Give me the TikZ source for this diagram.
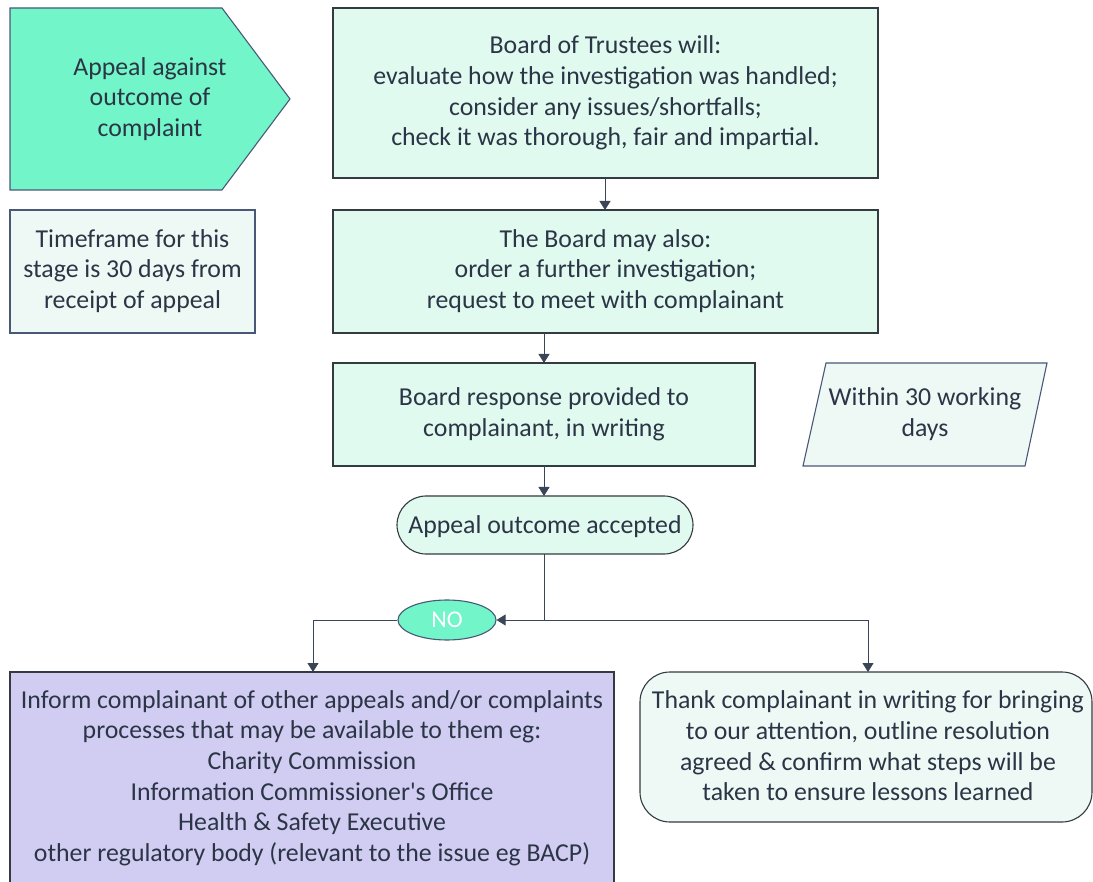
\documentclass[tikz,border=0pt]{standalone}
\usepackage{fontspec}
\setmainfont{Carlito}
\usetikzlibrary{arrows.meta,shapes.geometric,shapes.multipart}
\definecolor{mint}{HTML}{72F5C8}
\definecolor{palemint}{HTML}{E0FAF0}
\definecolor{paler}{HTML}{EEF9F6}
\definecolor{lav}{HTML}{D0CCF2}
\definecolor{txt}{HTML}{2B3545}
\definecolor{edge}{HTML}{4A5878}
\definecolor{dark}{HTML}{333A40}
\definecolor{arr}{HTML}{3A4658}
\tikzset{
  base/.style={text=txt, font=\fontsize{25.8}{30.6}\selectfont, align=center, inner sep=0pt, line width=1.1pt},
  boxA/.style={base, draw=dark, fill=palemint},
  boxB/.style={base, draw=edge, fill=paler},
  conn/.style={draw=arr, line width=1pt},
  tip/.style={-{Triangle[length=9pt,width=11pt]}},
}
\begin{document}
\begin{tikzpicture}[x=1pt,y=-1pt]
\useasboundingbox (0,0) rectangle (1093,882);
% pentagon arrow
\path[draw=edge, fill=mint, line width=1.1pt] (10,8) -- (222,8) -- (290,99) -- (222,190) -- (10,190) -- cycle;
\node[base] (appeal) at (150,99) {Appeal against\\outcome of\\complaint};
% boxes
\path[boxA] (333,8) rectangle (878,178);
\node[base] (b1) at (605.5,93) {Board of Trustees will:\\evaluate how the investigation was handled;\\consider any issues/shortfalls;\\check it was thorough, fair and impartial.};
\coordinate (b1s) at (605,178);
\path[boxA] (333,210) rectangle (878,333);
\node[base] (b2) at (605.5,271) {The Board may also:\\order a further investigation;\\request to meet with complainant};
\coordinate (b2n) at (605,210);
\coordinate (b2s) at (544,333);
\path[boxB] (10,210) rectangle (255,333);
\node[base] (tf) at (132.5,271) {Timeframe for this\\stage is 30 days from\\receipt of appeal};
\path[boxA] (333,363) rectangle (755,466);
\node[base] (b3) at (544,414) {Board response provided to\\complainant, in writing};
\coordinate (b3n) at (544,363);
\coordinate (b3s) at (544,466);
\path[boxB] (826,363) -- (1047,363) -- (1025,466) -- (803,466) -- cycle;
\node[base] (w30) at (925,414) {Within 30 working\\days};
\path[boxA, rounded corners=29pt] (397,496) rectangle (693,554);
\node[base] (acc) at (545,527) {Appeal outcome accepted};
\coordinate (accn) at (544,496);
\coordinate (accs) at (544,554);
\node[ellipse, draw=edge, fill=mint, line width=1.1pt, minimum width=98pt, minimum height=40pt, inner sep=0pt, text=white, font=\fontsize{24}{28}\selectfont] (no) at (447,620) {NO};
\coordinate (j) at (544,620);
\coordinate (rt) at (868,620);
\coordinate (lt) at (313,620);
\path[boxA, fill=lav] (10,672) rectangle (614,890);
\node[base] (inf) at (312,778) {Inform complainant of other appeals and/or complaints\\processes that may be available to them eg:\\Charity Commission\\Information Commissioner\textquotesingle s Office\\Health \& Safety Executive\\other regulatory body (relevant to the issue eg BACP)};
\coordinate (infn) at (313,672);
\path[boxB, draw=dark, rounded corners=30pt] (640,672) rectangle (1092,822);
\node[base] (thk) at (868,746) {Thank complainant in writing for bringing\\to our attention, outline resolution\\agreed \& confirm what steps will be\\taken to ensure lessons learned};
\coordinate (thkn) at (868,672);
% connectors
\draw[conn, tip] (b1s) -- (b2n);
\draw[conn, tip] (b2s) -- (b3n);
\draw[conn, tip] (b3s) -- (accn);
\draw[conn] (accs) -- (j);
\draw[conn, tip] (j) -- (no.east);
\draw[conn, tip] (j) -- (rt) -- (thkn);
\draw[conn, tip] (no.west) -- (lt) -- (infn);
\end{tikzpicture}
\end{document}
